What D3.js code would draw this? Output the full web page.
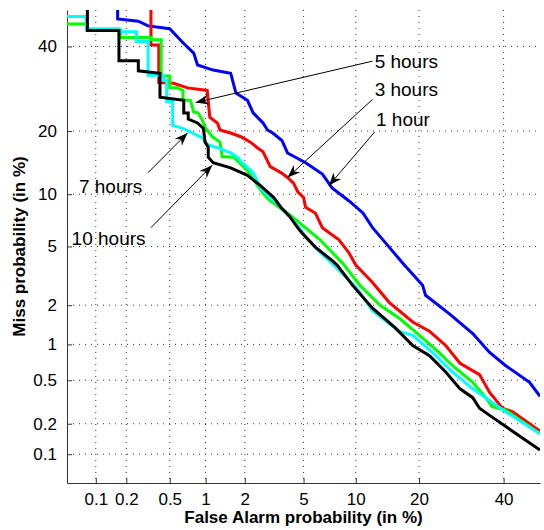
<!DOCTYPE html>
<html>
<head>
<meta charset="utf-8">
<script src="https://cdn.jsdelivr.net/npm/d3@7"></script>
<style>
  body { margin: 0; background: #fff; }
  svg { display: block; font-family: "Liberation Sans", Arial, sans-serif; }
</style>
</head>
<body>
<div id="chart"></div>
<script>
// ticks (in %)
const xTicks = [0.1, 0.2, 0.5, 1, 2, 5, 10, 20, 40];
const yTicks = [0.1, 0.2, 0.5, 1, 2, 5, 10, 20, 40];

// DET curves: [false alarm %, miss %]
const hour1 = [
  [0.165, 50], [0.165, 47.5], [0.26, 46.9], [0.32, 45.6], [0.5, 44.8], [0.65, 41], [0.8, 38.2],
  [0.86, 35.1], [1.15, 33.8], [1.57, 33], [1.72, 28.2], [2.09, 26.5], [2.3, 23.7], [2.7, 21.6],
  [2.9, 20.2], [3.15, 19.6], [3.63, 18.2], [3.95, 16], [5.15, 14.4], [6.5, 12.7], [7.4, 10.8],
  [9.2, 9.2], [10.9, 7.9], [12.2, 6.5], [14.7, 4.95], [17, 3.9], [20.7, 2.78], [21.3, 2.36],
  [26.5, 1.72], [32, 1.22], [36.3, 0.86], [40.5, 0.67], [47.1, 0.48], [50, 0.36]
];
const hour3 = [
  [0.34, 50], [0.34, 40.4], [0.4, 40.4], [0.4, 30.7], [0.54, 30.5], [0.71, 29.4], [1.03, 28.8],
  [1.08, 22.8], [1.24, 21.6], [1.3, 20.2], [1.57, 19.6], [1.87, 18.9], [2.2, 17.9], [2.46, 16.9],
  [2.7, 16.2], [3.03, 13.8], [3.57, 12.9], [3.95, 12.2], [4.33, 11.4], [4.6, 10.3], [5.0, 9.6],
  [5.15, 8.5], [5.9, 7.9], [6.5, 6.5], [8.1, 5.5], [9.2, 4.55], [10, 3.8], [12.2, 2.9],
  [14.7, 2.1], [18.8, 1.5], [22.1, 1.27], [25.6, 0.98], [28.9, 0.7], [33.7, 0.56], [36.3, 0.39],
  [39.7, 0.28], [42.4, 0.26], [50, 0.17]
];
const hour5 = [
  [0.05, 46.1], [0.081, 46.1], [0.081, 44.5], [0.175, 44.5], [0.175, 42.4], [0.34, 42.4],
  [0.34, 41.8], [0.42, 41.8], [0.42, 32.3], [0.5, 32.3], [0.5, 29.4], [0.58, 29.4], [0.65, 28.8],
  [0.65, 26.5], [0.75, 26.5], [0.8, 23.9], [0.87, 23.7], [0.94, 22.2], [0.99, 20.7], [1.13, 18.9],
  [1.3, 17.9], [1.35, 15.4], [1.66, 15.3], [2.09, 13.2], [2.7, 10.1], [3.03, 9.2], [4.1, 7.7],
  [6.3, 5.5], [8.5, 3.9], [10.5, 2.78], [13.3, 2.0], [16.4, 1.6], [20.1, 1.18], [24.1, 0.86],
  [27.1, 0.67], [32, 0.48], [35.3, 0.35], [37, 0.29], [40.5, 0.27], [50, 0.16]
];
const hour7 = [
  [0.05, 48.2], [0.08, 48.2], [0.08, 44.8], [0.17, 44.8], [0.17, 44], [0.25, 44], [0.25, 41.3],
  [0.32, 41.3], [0.32, 32.5], [0.44, 32.5], [0.44, 31.2], [0.47, 31.2], [0.47, 26.2], [0.53, 26.2],
  [0.53, 21.1], [0.65, 20.5], [0.75, 19.8], [0.94, 18.7], [1.05, 17.4], [1.24, 16.9], [1.57, 16.0],
  [1.77, 15.3], [1.87, 14.6], [2.3, 12.9], [2.59, 10.8], [3.03, 9.6], [3.57, 8.5], [4.3, 7.2],
  [5.2, 5.7], [6.3, 4.6], [7.4, 3.9], [10, 2.7], [12.2, 1.82], [16.4, 1.27], [18.8, 1.18],
  [22.7, 0.86], [27.1, 0.59], [32, 0.42], [35.3, 0.35], [40.5, 0.26], [50, 0.16]
];
const hour10 = [
  [0.082, 50], [0.082, 44.3], [0.17, 44.3], [0.17, 36.2], [0.26, 36.2], [0.26, 33.6], [0.41, 33],
  [0.41, 27.2], [0.66, 26.5], [0.66, 23.7], [0.72, 23.7], [0.72, 22.4], [0.86, 21.6], [0.96, 20.5],
  [0.99, 17.9], [1.05, 17.0], [1.05, 15.3], [1.15, 14.4], [1.57, 13.6], [2.09, 12.5], [2.59, 11.1],
  [3.2, 9.6], [3.57, 8.5], [4.1, 7.5], [4.65, 6.4], [4.92, 6.0], [5.9, 4.95], [7.4, 4.07],
  [7.9, 3.8], [9.6, 2.78], [12.2, 1.9], [15.7, 1.35], [18.8, 0.98], [22.1, 0.81], [25.6, 0.59],
  [28.9, 0.42], [32, 0.35], [33.7, 0.28], [36.3, 0.24], [50, 0.11]
];

const series = [
  { data: hour1, color: "#0000ff" },
  { data: hour3, color: "#ff0000" },
  { data: hour5, color: "#00ff00" },
  { data: hour7, color: "#00ffff" },
  { data: hour10, color: "#000000" }
];

// annotations: label position, arrow tail, arrow tip (all in %)
const notes = [
  { text: "5 hours", at: [12.5, 34.3], from: [12.2, 36.1], to: [0.83, 26.0] },
  { text: "3 hours", at: [12.5, 27.4], from: [12.2, 26.7], to: [3.95, 12.2] },
  { text: "1 hour", at: [12.7, 20.9], from: [12.5, 19.8], to: [7.1, 11.1] },
  { text: "7 hours", at: [0.067, 10.2], from: [0.32, 12.9], to: [0.71, 19.6] },
  { text: "10 hours", at: [0.056, 5.1], from: [0.34, 6.5], to: [1.13, 14.0] }
];

// inverse normal cdf (Acklam)
function probit(p) {
  const a = [-39.69683028665376, 220.9460984245205, -275.9285104469687, 138.3577518672690, -30.66479806614716, 2.506628277459239];
  const b = [-54.47609879822406, 161.5858368580409, -155.6989798598866, 66.80131188771972, -13.28068155288572];
  const c = [-0.007784894002430293, -0.3223964580411365, -2.400758277161838, -2.549732539343734, 4.374664141464968, 2.938163982698783];
  const d = [0.007784695709041462, 0.3224671290700398, 2.445134137142996, 3.754408661907416];
  const plow = 0.02425;
  if (p < plow) {
    const q = Math.sqrt(-2 * Math.log(p));
    return (((((c[0] * q + c[1]) * q + c[2]) * q + c[3]) * q + c[4]) * q + c[5]) /
      ((((d[0] * q + d[1]) * q + d[2]) * q + d[3]) * q + 1);
  }
  if (p <= 1 - plow) {
    const q = p - 0.5, r = q * q;
    return (((((a[0] * r + a[1]) * r + a[2]) * r + a[3]) * r + a[4]) * r + a[5]) * q /
      (((((b[0] * r + b[1]) * r + b[2]) * r + b[3]) * r + b[4]) * r + 1);
  }
  return -probit(1 - p);
}

const width = 544, height = 530;
const margin = { top: 10, right: 4, bottom: 47, left: 67 };
const innerW = width - margin.left - margin.right;
const innerH = height - margin.top - margin.bottom;

const svg = d3.select("#chart").append("svg")
  .attr("width", width)
  .attr("height", height);

const g = svg.append("g")
  .attr("transform", `translate(${margin.left},${margin.top})`);

const x = d3.scaleLinear()
  .domain([probit(0.0005), probit(0.5)])
  .range([0, innerW]);
const y = d3.scaleLinear()
  .domain([probit(0.0005), probit(0.5)])
  .range([innerH, 0]);
const px = v => x(probit(v / 100));
const py = v => y(probit(v / 100));

// grid
g.append("g")
  .selectAll("line")
  .data(xTicks)
  .enter()
  .append("line")
  .attr("x1", d => px(d)).attr("x2", d => px(d))
  .attr("y1", 0).attr("y2", innerH)
  .attr("stroke", "#333")
  .attr("stroke-dasharray", "1,5");

g.append("g")
  .selectAll("line")
  .data(yTicks)
  .enter()
  .append("line")
  .attr("y1", d => py(d)).attr("y2", d => py(d))
  .attr("x1", 0).attr("x2", innerW)
  .attr("stroke", "#333")
  .attr("stroke-dasharray", "1,5");

// axes
const xAxis = g.append("g")
  .attr("transform", `translate(0,${innerH})`)
  .call(d3.axisBottom(x)
    .tickValues(xTicks.map(v => probit(v / 100)))
    .tickFormat((d, i) => xTicks[i])
    .tickSizeInner(-5).tickSizeOuter(0).tickPadding(10));

const yAxis = g.append("g")
  .call(d3.axisLeft(y)
    .tickValues(yTicks.map(v => probit(v / 100)))
    .tickFormat((d, i) => yTicks[i])
    .tickSizeInner(-5).tickSizeOuter(0).tickPadding(10));

[xAxis, yAxis].forEach(a => {
  a.select(".domain").attr("stroke", "#333");
  a.selectAll(".tick line").attr("stroke", "#333");
  a.selectAll("text")
    .attr("font-family", "Liberation Sans, Arial, sans-serif")
    .attr("font-size", 17)
    .attr("fill", "#000");
});

// curves
g.append("clipPath").attr("id", "plot-clip")
  .append("rect").attr("width", innerW).attr("height", innerH);

const line = d3.line()
  .x(d => px(d[0]))
  .y(d => py(d[1]));

g.append("g")
  .attr("clip-path", "url(#plot-clip)")
  .selectAll("path")
  .data(series)
  .enter()
  .append("path")
  .attr("d", d => line(d.data))
  .attr("fill", "none")
  .attr("stroke", d => d.color)
  .attr("stroke-width", 3)
  .attr("stroke-linejoin", "miter");

// annotations
const notesG = g.append("g");
notes.forEach(n => {
  const x1 = px(n.from[0]), y1 = py(n.from[1]);
  const x2 = px(n.to[0]), y2 = py(n.to[1]);
  notesG.append("line")
    .attr("x1", x1).attr("y1", y1)
    .attr("x2", x2).attr("y2", y2)
    .attr("stroke", "#000")
    .attr("stroke-width", 1);
  const ang = Math.atan2(y2 - y1, x2 - x1);
  const len = 13, half = 5, notch = 4;
  const ux = Math.cos(ang), uy = Math.sin(ang);
  const bx = x2 - ux * len, by = y2 - uy * len;
  const nx = x2 - ux * (len - notch), ny = y2 - uy * (len - notch);
  notesG.append("path")
    .attr("d", `M${x2},${y2}L${bx - uy * half},${by + ux * half}L${nx},${ny}L${bx + uy * half},${by - ux * half}Z`)
    .attr("fill", "#000");
  notesG.append("text")
    .attr("x", px(n.at[0]))
    .attr("y", py(n.at[1]))
    .attr("font-size", 19)
    .attr("fill", "#000")
    .text(n.text);
});

// axis titles
svg.append("text")
  .attr("x", margin.left + innerW / 2)
  .attr("y", 523)
  .attr("text-anchor", "middle")
  .attr("font-weight", "bold")
  .attr("font-size", 17)
  .text("False Alarm probability (in %)");

svg.append("text")
  .attr("transform", `translate(25,${margin.top + innerH / 2}) rotate(-90)`)
  .attr("text-anchor", "middle")
  .attr("font-weight", "bold")
  .attr("font-size", 17)
  .text("Miss probability (in %)");
</script>
</body>
</html>
